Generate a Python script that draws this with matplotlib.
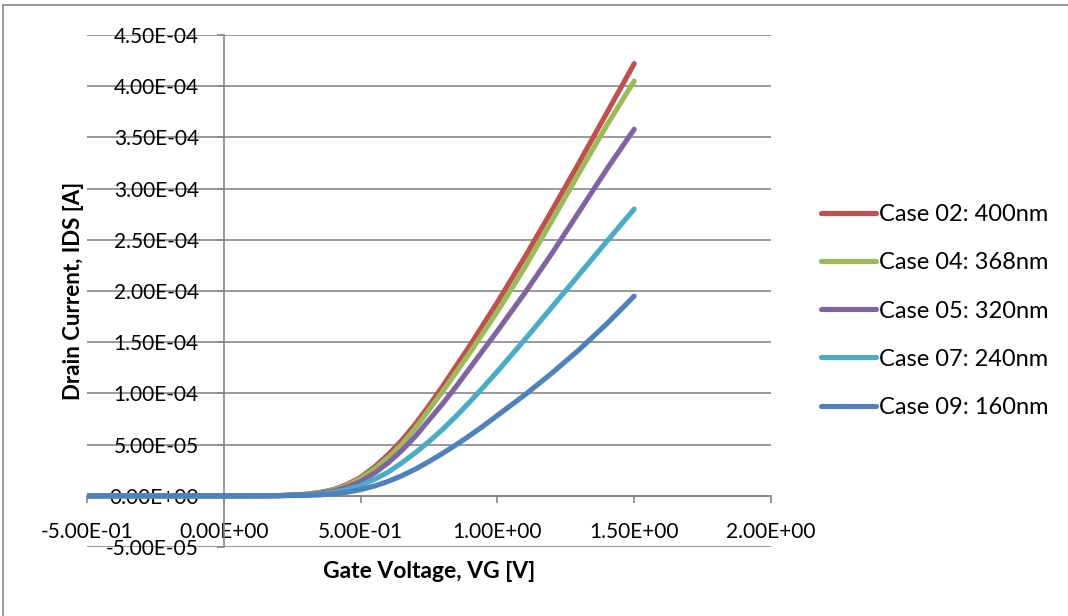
import matplotlib
matplotlib.use("Agg")
import matplotlib.pyplot as plt
from matplotlib.lines import Line2D

plt.rcParams['font.family'] = ['Lato', 'DejaVu Sans']

# gate voltage sweep [V]
vg = [-0.5, 0.0, 0.1, 0.2, 0.3, 0.35, 0.4, 0.45, 0.5, 0.55, 0.6, 0.65, 0.7, 0.75, 0.8,
      0.85, 0.9, 0.95, 1.0, 1.1, 1.2, 1.3, 1.4, 1.5]

# drain current [A] per case
ids_case02 = [0, 0, 0, 2e-7, 1.5e-6, 3.2e-6, 6e-6, 1.1e-5, 1.8e-5, 2.8e-5, 4.0e-5, 5.4e-5,
              7.0e-5, 8.8e-5, 1.07e-4, 1.27e-4, 1.47e-4, 1.68e-4, 1.89e-4,
              2.33e-4, 2.79e-4, 3.26e-4, 3.74e-4, 4.22e-4]
ids_case04 = [0, 0, 0, 2e-7, 1.4e-6, 3.0e-6, 5.5e-6, 1.0e-5, 1.7e-5, 2.6e-5, 3.7e-5, 5.0e-5,
              6.6e-5, 8.4e-5, 1.02e-4, 1.21e-4, 1.40e-4, 1.60e-4, 1.80e-4,
              2.23e-4, 2.69e-4, 3.16e-4, 3.62e-4, 4.05e-4]
ids_case05 = [0, 0, 0, 1.5e-7, 1.2e-6, 2.5e-6, 4.5e-6, 8.5e-6, 1.4e-5, 2.2e-5, 3.2e-5, 4.4e-5,
              5.8e-5, 7.4e-5, 9.0e-5, 1.07e-4, 1.25e-4, 1.43e-4, 1.61e-4,
              1.98e-4, 2.37e-4, 2.78e-4, 3.19e-4, 3.58e-4]
ids_case07 = [0, 0, 0, 1e-7, 8e-7, 1.7e-6, 3.2e-6, 6e-6, 1.0e-5, 1.6e-5, 2.3e-5, 3.2e-5,
              4.2e-5, 5.3e-5, 6.5e-5, 7.8e-5, 9.2e-5, 1.065e-4, 1.215e-4,
              1.525e-4, 1.845e-4, 2.165e-4, 2.485e-4, 2.80e-4]
ids_case09 = [0, 0, 0, 5e-8, 4e-7, 9e-7, 1.8e-6, 3.5e-6, 6e-6, 9.5e-6, 1.4e-5, 1.95e-5,
              2.6e-5, 3.35e-5, 4.15e-5, 5.0e-5, 5.9e-5, 6.85e-5, 7.85e-5,
              9.85e-5, 1.20e-4, 1.43e-4, 1.68e-4, 1.95e-4]

labels = ["Case 02: 400nm", "Case 04: 368nm", "Case 05: 320nm", "Case 07: 240nm", "Case 09: 160nm"]
colors = ["#C0504D", "#9BBB59", "#8064A2", "#4BACC6", "#4F81BD"]

xticks = [-0.5, 0.0, 0.5, 1.0, 1.5, 2.0]
xtick_labels = ["-5.00E-01", "0.00E+00", "5.00E-01", "1.00E+00", "1.50E+00", "2.00E+00"]
yticks = [-5e-5, 0, 5e-5, 1e-4, 1.5e-4, 2e-4, 2.5e-4, 3e-4, 3.5e-4, 4e-4, 4.5e-4]
ytick_labels = ["-5.00E-05", "0.00E+00", "5.00E-05", "1.00E-04", "1.50E-04", "2.00E-04",
                "2.50E-04", "3.00E-04", "3.50E-04", "4.00E-04", "4.50E-04"]

fig = plt.figure(figsize=(10.68, 6.16), dpi=100)
ax = fig.add_axes([87 / 1068, 1 - 547 / 616, (771 - 87) / 1068, (547 - 35) / 616])

series = [ids_case02, ids_case04, ids_case05, ids_case07, ids_case09]
for ids, lab, c in zip(series, labels, colors):
    ax.plot(vg, ids, color=c, lw=3.7, label=lab, solid_capstyle='round',
            solid_joinstyle='round', zorder=3)

ax.set_xlim(-0.5, 2.0)
ax.set_ylim(-5e-5, 4.5e-4)
ax.set_xticks(xticks)
ax.set_xticklabels(xtick_labels)
ax.set_yticks(yticks)
ax.set_yticklabels(ytick_labels)

grid_c = "#878787"
ax.grid(axis='y', color=grid_c, lw=1.2)
ax.set_axisbelow(True)
for s in ['top', 'right']:
    ax.spines[s].set_visible(False)
ax.spines['left'].set_position(('data', 0))
ax.spines['bottom'].set_position(('data', 0))
for s in ['left', 'bottom']:
    ax.spines[s].set_color(grid_c)
    ax.spines[s].set_linewidth(1.2)

ax.tick_params(axis='x', direction='out', length=5, width=1.2, color=grid_c, labelsize=15, pad=14)
ax.tick_params(axis='y', direction='out', length=5, width=1.2, color=grid_c, labelsize=15, pad=13)

ax.set_xlabel("Gate Voltage, VG [V]", fontsize=16.5, fontweight='bold')
ax.set_ylabel("Drain Current, IDS [A]", fontsize=16, fontweight='bold')
ax.xaxis.set_label_coords(0.5, -14 / 512)
ax.yaxis.set_label_coords(-3 / 684, 0.5)

leg = ax.legend(loc='center left', bbox_to_anchor=(800 / 1068, 1 - 311 / 616),
                bbox_transform=fig.transFigure, frameon=False, fontsize=17,
                handlelength=2.3, handletextpad=0.15, labelspacing=1.15)

# outer chart border (only top and left visible)
fig.add_artist(Line2D([3 / 1068, 3 / 1068], [0, 1 - 5 / 616], color="#888888", lw=1.2))
fig.add_artist(Line2D([3 / 1068, 1], [1 - 5 / 616, 1 - 5 / 616], color="#888888", lw=1.2))

fig.savefig("out.png", dpi=100)
